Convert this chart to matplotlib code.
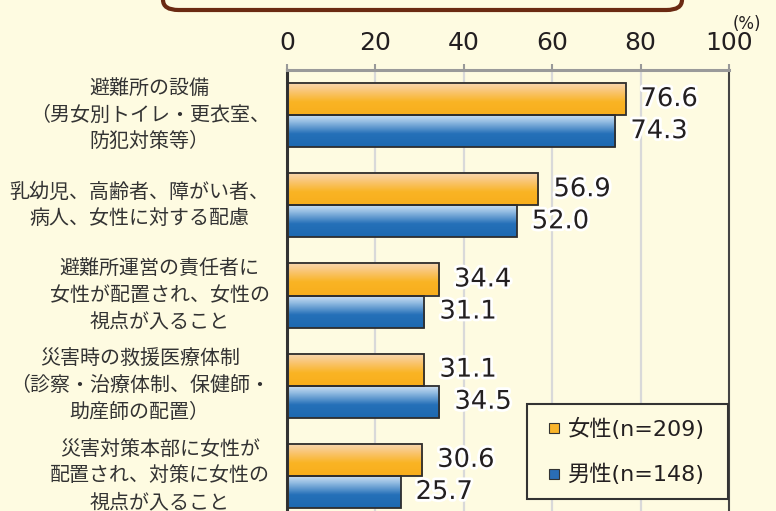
import numpy as np
import matplotlib
matplotlib.use("Agg")
import matplotlib.pyplot as plt
from matplotlib.patches import FancyBboxPatch
from matplotlib.lines import Line2D
from matplotlib.colors import LinearSegmentedColormap
import matplotlib.patheffects as pe

plt.rcParams['font.family'] = ['Noto Sans CJK JP', 'DejaVu Sans']

categories = [
    "避難所の設備\n（男女別トイレ・更衣室、\n防犯対策等）",
    "乳幼児、高齢者、障がい者、\n病人、女性に対する配慮",
    "避難所運営の責任者に\n女性が配置され、女性の\n視点が入ること",
    "災害時の救援医療体制\n（診察・治療体制、保健師・\n助産師の配置）",
    "災害対策本部に女性が\n配置され、対策に女性の\n視点が入ること",
]
female = [76.6, 56.9, 34.4, 31.1, 30.6]
male = [74.3, 52.0, 31.1, 34.5, 25.7]
series_labels = ["女性(n=209)", "男性(n=148)"]
xticks = [0, 20, 40, 60, 80, 100]

BG = "#fefbe1"
TXT = "#231f20"

fig = plt.figure(figsize=(7.76, 5.11), dpi=100, facecolor=BG)

# top decorative box (cropped)
box = FancyBboxPatch((163 / 776, 1 - 10 / 511), (682 - 163) / 776, 0.2,
                     boxstyle="round,pad=0,rounding_size=0.02",
                     transform=fig.transFigure, facecolor=BG,
                     edgecolor="#6b2a12", linewidth=3, zorder=0)
fig.patches.append(box)

ax = fig.add_axes([287 / 776, -10 / 511, 442 / 776, 451 / 511])
ax.set_facecolor(BG)

orange_cmap = LinearSegmentedColormap.from_list(
    "o", [(0, "#f8d8b4"), (0.25, "#f9c77a"), (0.6, "#fab424"), (1, "#f8ae1c")])
blue_cmap = LinearSegmentedColormap.from_list(
    "b", [(0, "#d2e4f4"), (0.25, "#8db8e0"), (0.6, "#2570b8"), (1, "#1d69b1")])
grad = np.linspace(0, 1, 64).reshape(-1, 1)

h = 0.356
y = np.arange(len(categories))
for i, (f, m) in enumerate(zip(female, male)):
    for val, y0, cmap in ((f, i - h, orange_cmap), (m, i, blue_cmap)):
        ax.imshow(grad, cmap=cmap, aspect='auto', origin='upper',
                  extent=(0, val, y0 + h, y0), zorder=2, interpolation='bilinear')

ax.barh(y - h / 2, female, height=h, facecolor='none', edgecolor="#2e2e2e",
        linewidth=1.3, zorder=3)
ax.barh(y + h / 2, male, height=h, facecolor='none', edgecolor="#2e2e2e",
        linewidth=1.3, zorder=3)

stroke = [pe.withStroke(linewidth=4, foreground='white')]
for i, (f, m) in enumerate(zip(female, male)):
    ax.text(f + 3.4, i - h / 2, f"{f:.1f}", va='center', ha='left', fontsize=18.5,
            family='DejaVu Sans', color=TXT, path_effects=stroke, zorder=5)
    ax.text(m + 3.4, i + h / 2, f"{m:.1f}", va='center', ha='left', fontsize=18.5,
            family='DejaVu Sans', color=TXT, path_effects=stroke, zorder=5)

ax.set_xlim(0, 100)
ax.set_ylim(len(categories) - 0.5, -0.5)
ax.set_xticks(xticks)
ax.set_xticklabels([str(t) for t in xticks], family='DejaVu Sans', fontsize=18, color=TXT)
ax.xaxis.tick_top()
ax.tick_params(axis='x', direction='out', length=4, width=1.5, color="#999999", pad=7)
ax.set_yticks([])
for xv in xticks[1:-1]:
    ax.axvline(xv, color="#d9d9d9", linewidth=1.6, zorder=1)

ax.spines['top'].set_color("#9a9a9a")
ax.spines['top'].set_linewidth(2.2)
ax.spines['left'].set_color("#333333")
ax.spines['left'].set_linewidth(2.2)
ax.spines['right'].set_color("#444444")
ax.spines['right'].set_linewidth(1.5)
ax.spines['bottom'].set_visible(False)

# category labels
for i, lab in enumerate(categories):
    ax.text(-3.9, i, lab, ha='right', va='center', multialignment='center',
            fontsize=14.4, color="#333333", linespacing=1.36, zorder=5)

fig.text(747 / 776, 1 - 24 / 511, "(%)", ha='center', va='center',
         fontsize=12, family='DejaVu Sans', color=TXT)

handles = [Line2D([], [], linestyle='none', marker='s', markersize=6.5,
                  markerfacecolor="#f9b42a", markeredgecolor="#333333", markeredgewidth=0.8),
           Line2D([], [], linestyle='none', marker='s', markersize=6.5,
                  markerfacecolor="#2a6db5", markeredgecolor="#333333", markeredgewidth=0.8)]
leg = ax.legend(handles, series_labels, loc='upper left', mode='expand',
                bbox_to_anchor=(527 / 776, 1 - 404 / 511 - 0.01, 201 / 776, 0.01),
                bbox_transform=fig.transFigure,
                borderaxespad=0, frameon=True, fancybox=False,
                prop={'family': ['DejaVu Sans', 'Noto Sans CJK JP'], 'size': 16},
                handlelength=1.2, handletextpad=0.0,
                labelspacing=1.08, borderpad=0.62, labelcolor=TXT)
leg.get_frame().set_facecolor(BG)
leg.get_frame().set_edgecolor("#333333")
leg.get_frame().set_linewidth(1.5)
leg.get_frame().set_alpha(1)
leg.set_zorder(6)

fig.savefig("out.png", dpi=100, facecolor=BG)
